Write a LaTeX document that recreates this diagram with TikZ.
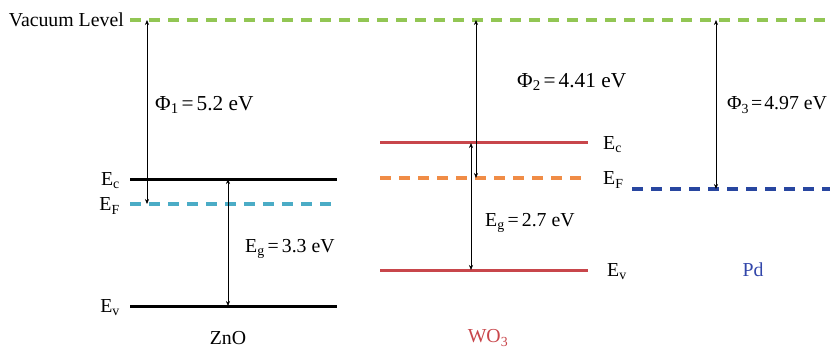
\documentclass[tikz,border=0pt]{standalone}
\usepackage{fontspec}
\setmainfont{Liberation Serif}
\usetikzlibrary{arrows.meta}
\definecolor{vacgreen}{RGB}{146,198,84}
\definecolor{znocyan}{RGB}{75,172,198}
\definecolor{woorange}{RGB}{240,140,70}
\definecolor{wored}{RGB}{200,70,75}
\definecolor{pdblue}{RGB}{40,70,160}
\definecolor{pdtext}{RGB}{50,70,170}
\newcommand{\eqs}{\hspace{3pt}=\hspace{3pt}}
\newcommand{\eqt}{\hspace{2pt}=\hspace{2pt}}
\begin{document}
\begin{tikzpicture}[x=1pt,y=-1pt,
  lvl/.style={line width=3pt},
  dlvl/.style={line width=3.5pt, dash pattern=on 11pt off 8pt},
  dim/.style={{Stealth[length=5pt,width=4pt]}-{Stealth[length=5pt,width=4pt]}, line width=0.6pt},
  lbl/.style={font=\fontsize{19.8}{22}\selectfont, inner sep=0pt},
  vlbl/.style={font=\fontsize{21.3}{24}\selectfont, inner sep=0pt}]
\useasboundingbox (0,0) rectangle (830,350);

% vacuum level
\coordinate (vacL) at (130,20);
\coordinate (vacR) at (830,20);
\draw[dlvl,vacgreen] (vacL) -- (vacR);
\node[lbl,anchor=east] (vaclbl) at (124,20) {Vacuum Level};

% ZnO
\coordinate (zcL) at (130,179); \coordinate (zcR) at (337,179);
\coordinate (zfL) at (130,204); \coordinate (zfR) at (337,204);
\coordinate (zvL) at (130,306); \coordinate (zvR) at (337,306);
\draw[dlvl,znocyan] (zfL) -- (zfR);
\draw[lvl,black] (zcL) -- (zcR);
\draw[lvl,black] (zvL) -- (zvR);
\node[lbl,anchor=east] (zEc) at (120,181) {E\textsubscript{c}};
\node[lbl,anchor=east] (zEF) at (120,206) {E\textsubscript{F}};
\node[lbl,anchor=east] (zEv) at (120,308) {E\textsubscript{v}};
\coordinate (p1t) at (147,20); \coordinate (p1b) at (147,204);
\draw[dim] (p1t) -- (p1b);
\node[vlbl,anchor=west] (phi1) at (155,105) {Φ\textsubscript{1}\eqs 5.2 eV};
\coordinate (g1t) at (228,179); \coordinate (g1b) at (228,306);
\draw[dim] (g1t) -- (g1b);
\node[lbl,anchor=west] (eg1) at (245,249) {E\textsubscript{g}\eqs 3.3 eV};
\node[lbl] (zno) at (228,338) {ZnO};

% WO3
\coordinate (wcL) at (380,143); \coordinate (wcR) at (588,143);
\coordinate (wfL) at (380,178); \coordinate (wfR) at (588,178);
\coordinate (wvL) at (380,270); \coordinate (wvR) at (588,270);
\draw[lvl,wored] (wcL) -- (wcR);
\draw[dlvl,woorange] (wfL) -- (wfR);
\draw[lvl,wored] (wvL) -- (wvR);
\node[lbl,anchor=west] (wEc) at (603,145) {E\textsubscript{c}};
\node[lbl,anchor=west] (wEF) at (603,180) {E\textsubscript{F}};
\node[lbl,anchor=west] (wEv) at (607,272) {E\textsubscript{v}};
\coordinate (p2t) at (476,20); \coordinate (p2b) at (476,178);
\draw[dim] (p2t) -- (p2b);
\node[vlbl,anchor=west] (phi2) at (517,82) {Φ\textsubscript{2}\eqs 4.41 eV};
\coordinate (g2t) at (471,143); \coordinate (g2b) at (471,270);
\draw[dim] (g2t) -- (g2b);
\node[lbl,anchor=west] (eg2) at (485,223) {E\textsubscript{g}\eqs 2.7 eV};
\node[lbl,text=wored] (wo3) at (488,338) {WO\textsubscript{3}};

% Pd
\coordinate (pfL) at (632,189); \coordinate (pfR) at (830,189);
\draw[dlvl,pdblue] (pfL) -- (pfR);
\coordinate (p3t) at (716,20); \coordinate (p3b) at (716,189);
\draw[dim] (p3t) -- (p3b);
\node[lbl,anchor=west] (phi3) at (727,105) {Φ\textsubscript{3}\eqt 4.97 eV};
\node[lbl,text=pdtext] (pd) at (753,270) {Pd};
\end{tikzpicture}
\end{document}
